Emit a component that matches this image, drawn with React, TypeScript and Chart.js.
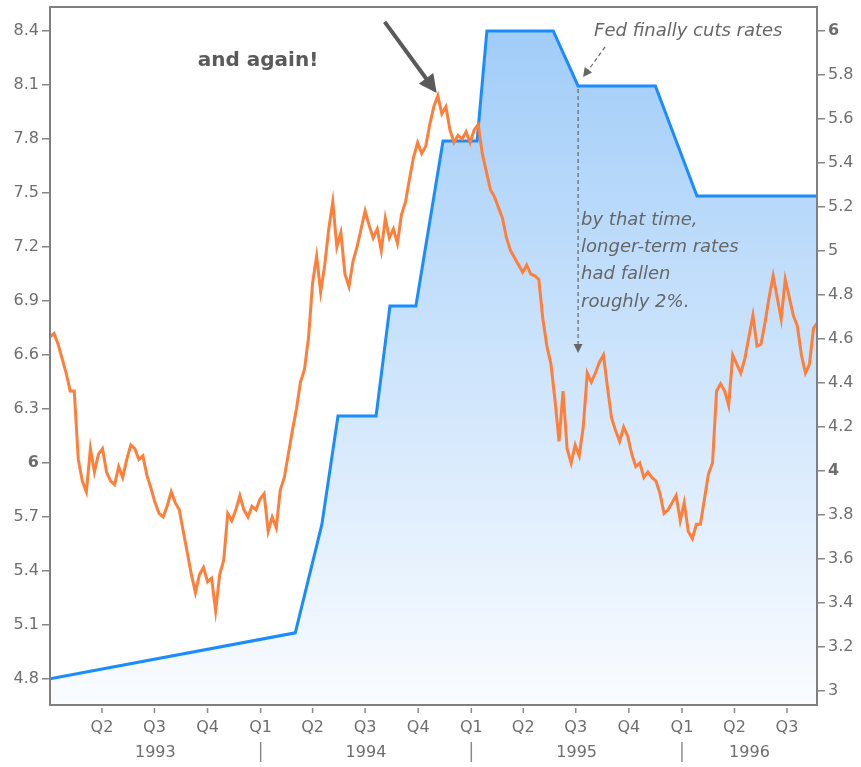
import React, { useEffect, useRef } from "react";
import { Chart, registerables } from "chart.js";

Chart.register(...registerables);

const FONT = "'DejaVu Sans', Verdana, sans-serif";
const TEXT = "#6e6e6e";

const startDate = "1993-01-01";
const endDate = "1996-08-22";

// 10-year yields, weekly samples starting 1993-01-01 (left axis)
const yieldStepDays = 7;
const yieldValues = [
  6.7, 6.72, 6.66, 6.58, 6.5, 6.4, 6.4, 6.02, 5.9, 5.84,
  6.08, 5.95, 6.05, 6.08, 5.95, 5.9, 5.88, 5.98, 5.92, 6.02,
  6.1, 6.08, 6.02, 6.04, 5.93, 5.86, 5.78, 5.72, 5.7, 5.76,
  5.84, 5.78, 5.74, 5.62, 5.5, 5.38, 5.28, 5.38, 5.42, 5.34,
  5.36, 5.18, 5.38, 5.46, 5.72, 5.68, 5.74, 5.82, 5.74, 5.7,
  5.76, 5.74, 5.8, 5.83, 5.62, 5.7, 5.64, 5.85, 5.92, 6.05,
  6.18, 6.3, 6.45, 6.52, 6.7, 7.0, 7.15, 6.95, 7.1, 7.3,
  7.45, 7.2, 7.28, 7.05, 6.98, 7.12, 7.2, 7.3, 7.4, 7.32,
  7.25, 7.3, 7.18, 7.36, 7.25, 7.3, 7.22, 7.38, 7.45, 7.58,
  7.7, 7.78, 7.72, 7.76, 7.88, 7.98, 8.04, 7.94, 7.98, 7.85,
  7.78, 7.82, 7.8, 7.84, 7.78, 7.85, 7.88, 7.72, 7.62, 7.52,
  7.48, 7.42, 7.36, 7.25, 7.18, 7.14, 7.1, 7.06, 7.1, 7.05,
  7.04, 7.02, 6.8, 6.65, 6.55, 6.35, 6.12, 6.4, 6.08, 6.0,
  6.1, 6.04, 6.2, 6.5, 6.45, 6.5, 6.56, 6.6, 6.42, 6.25,
  6.18, 6.12, 6.2, 6.15, 6.05, 5.98, 6.0, 5.92, 5.95, 5.92,
  5.9, 5.83, 5.72, 5.74, 5.78, 5.82, 5.68, 5.78, 5.62, 5.58,
  5.66, 5.66, 5.8, 5.94, 6.0, 6.4, 6.44, 6.4, 6.32, 6.6,
  6.55, 6.5, 6.58, 6.7, 6.82, 6.65, 6.66, 6.78, 6.92, 7.04,
  6.92, 6.8, 7.02, 6.92, 6.82, 6.76, 6.6, 6.5, 6.55, 6.75,
  6.78,
];

// Fed funds rate (right axis)
const fedDates = [
  "1993-01-01", "1994-03-02", "1994-04-17", "1994-05-15", "1994-07-20",
  "1994-08-13", "1994-09-27", "1994-11-13", "1995-01-11", "1995-01-28",
  "1995-05-23", "1995-07-05", "1995-11-16", "1996-01-27", "1996-08-22",
];
const fedValues = [
  3.055, 3.264, 3.756, 4.25, 4.25,
  4.75, 4.75, 5.5, 5.5, 6.0,
  6.0, 5.75, 5.75, 5.25, 5.25,
];

const leftTicks = [4.8, 5.1, 5.4, 5.7, 6, 6.3, 6.6, 6.9, 7.2, 7.5, 7.8, 8.1, 8.4];
const rightTicks = [3, 3.2, 3.4, 3.6, 3.8, 4, 4.2, 4.4, 4.6, 4.8, 5, 5.2, 5.4, 5.6, 5.8, 6];
const leftBold = [6];
const rightBold = [4, 6];

const quarterDates = [
  "1993-04-01", "1993-07-01", "1993-10-01", "1994-01-01", "1994-04-01", "1994-07-01", "1994-10-01",
  "1995-01-01", "1995-04-01", "1995-07-01", "1995-10-01", "1996-01-01", "1996-04-01", "1996-07-01",
];
const quarterLabels = ["Q2", "Q3", "Q4", "Q1", "Q2", "Q3", "Q4", "Q1", "Q2", "Q3", "Q4", "Q1", "Q2", "Q3"];
const yearLabels = ["1993", "1994", "1995", "1996"];
const yearStarts = ["1993-01-01", "1994-01-01", "1995-01-01", "1996-01-01", "1997-01-01"];

// annotation anchors
const peakDate = "1994-11-02";
const peakValue = 8.056;
const cutDate = "1995-07-05";
const cutValue = 5.75;
const dropEndValue = 4.536;
const againTextDate = "1993-09-14";
const againTextValue = 8.235;
const noteLines = ["by that time,", "longer-term rates", "had fallen", "roughly 2%."];

const dayOf = (s: string) => (Date.parse(s) - Date.parse(startDate)) / 86400000;
const xMax = dayOf(endDate);

function arrowHead(ctx: CanvasRenderingContext2D, x1: number, y1: number, x2: number, y2: number, len: number, half: number) {
  const a = Math.atan2(y2 - y1, x2 - x1);
  ctx.beginPath();
  ctx.moveTo(x2, y2);
  ctx.lineTo(x2 - len * Math.cos(a) + half * Math.sin(a), y2 - len * Math.sin(a) - half * Math.cos(a));
  ctx.lineTo(x2 - len * Math.cos(a) - half * Math.sin(a), y2 - len * Math.sin(a) + half * Math.cos(a));
  ctx.closePath();
  ctx.fill();
}

const decorPlugin = {
  id: "decor",
  afterDraw(chart: any) {
    const ctx: CanvasRenderingContext2D = chart.ctx;
    const area = chart.chartArea;
    const xs = chart.scales.x;
    const yl = chart.scales.yLeft;
    const yr = chart.scales.yRight;
    ctx.save();
    // border
    ctx.strokeStyle = "#7f7f7f";
    ctx.lineWidth = 2;
    ctx.strokeRect(area.left, area.top, area.right - area.left, area.bottom - area.top);

    // quarter ticks and labels
    ctx.fillStyle = TEXT;
    ctx.font = `16px ${FONT}`;
    ctx.textAlign = "center";
    ctx.textBaseline = "middle";
    ctx.strokeStyle = "#8a8a8a";
    ctx.lineWidth = 1.5;
    quarterDates.forEach((d, i) => {
      const px = xs.getPixelForValue(dayOf(d));
      ctx.beginPath();
      ctx.moveTo(px, area.bottom + 3);
      ctx.lineTo(px, area.bottom + 8);
      ctx.stroke();
      ctx.fillText(quarterLabels[i], px, area.bottom + 23);
    });
    // year separators and labels
    yearLabels.forEach((y, i) => {
      const s = Math.max(0, dayOf(yearStarts[i]));
      const e = Math.min(xMax, dayOf(yearStarts[i + 1]));
      const cx = (xs.getPixelForValue(s) + xs.getPixelForValue(e)) / 2;
      ctx.fillText(y, cx, area.bottom + 48);
      if (i > 0) {
        const px = xs.getPixelForValue(dayOf(yearStarts[i]));
        ctx.beginPath();
        ctx.moveTo(px, area.bottom + 37);
        ctx.lineTo(px, area.bottom + 57);
        ctx.stroke();
      }
    });

    // "and again!" text + arrow
    ctx.fillStyle = "#5a5a5a";
    ctx.font = `bold 20px ${FONT}`;
    ctx.textAlign = "left";
    ctx.fillText("and again!", xs.getPixelForValue(dayOf(againTextDate)), yl.getPixelForValue(againTextValue));
    const tx = xs.getPixelForValue(dayOf(peakDate));
    const ty = yl.getPixelForValue(peakValue);
    const sx = tx - 52, sy = ty - 71;
    ctx.strokeStyle = "#5a5a5a";
    ctx.lineWidth = 4;
    const ang = Math.atan2(ty - sy, tx - sx);
    ctx.beginPath();
    ctx.moveTo(sx, sy);
    ctx.lineTo(tx - 12 * Math.cos(ang), ty - 12 * Math.sin(ang));
    ctx.stroke();
    arrowHead(ctx, sx, sy, tx, ty, 18, 9);

    // Fed cut annotation
    const cx = xs.getPixelForValue(dayOf(cutDate));
    const cy = yr.getPixelForValue(cutValue);
    ctx.fillStyle = "#666666";
    ctx.strokeStyle = "#666666";
    ctx.font = `italic 18px ${FONT}`;
    ctx.textAlign = "left";
    ctx.fillText("Fed finally cuts rates", cx + 16, cy - 55);
    ctx.lineWidth = 1.2;
    ctx.setLineDash([4, 3]);
    ctx.beginPath();
    ctx.moveTo(cx + 27, cy - 39);
    ctx.lineTo(cx + 9, cy - 14);
    ctx.stroke();
    ctx.beginPath();
    ctx.moveTo(cx, cy + 3);
    const ey = yr.getPixelForValue(dropEndValue);
    ctx.lineTo(cx, ey - 6);
    ctx.stroke();
    ctx.setLineDash([]);
    arrowHead(ctx, cx + 27, cy - 39, cx + 5, cy - 9, 9, 4.5);
    arrowHead(ctx, cx, cy, cx, ey, 9, 4.5);
    noteLines.forEach((t, i) => {
      ctx.fillText(t, cx + 3, cy + 134 + i * 27.3);
    });
    ctx.restore();
  },
};

export default function App() {
  const ref = useRef<HTMLCanvasElement | null>(null);
  useEffect(() => {
    if (!ref.current) return;
    Chart.defaults.font.family = FONT;
    const tickFont = (bold: number[]) => (c: any) => ({
      family: FONT,
      size: 16,
      weight: c.tick && bold.includes(c.tick.value) ? "bold" : "normal",
    });
    const fitY = (w: number) => (s: any) => {
      s.width = w;
      s.paddingTop = 0;
      s.paddingBottom = 0;
    };
    const chart = new Chart(ref.current, {
      type: "line",
      data: {
        datasets: [
          {
            label: "10-year yield",
            data: yieldValues.map((v, i) => ({ x: i * yieldStepDays, y: v })),
            yAxisID: "yLeft",
            borderColor: "#ff7f3a",
            borderWidth: 3,
            pointRadius: 0,
            tension: 0,
            fill: false,
            order: 1,
          },
          {
            label: "Fed funds",
            data: fedDates.map((d, i) => ({ x: dayOf(d), y: fedValues[i] })),
            yAxisID: "yRight",
            borderColor: "#1a8cff",
            borderWidth: 3,
            pointRadius: 0,
            tension: 0,
            fill: "start",
            order: 2,
            backgroundColor: (c: any) => {
              const area = c.chart.chartArea;
              if (!area) return "rgba(0,0,0,0)";
              const g = c.chart.ctx.createLinearGradient(0, area.top, 0, area.bottom);
              g.addColorStop(0, "#9ecbf8");
              g.addColorStop(1, "#fafcff");
              return g;
            },
          },
        ],
      },
      options: {
        animation: false,
        responsive: false,
        layout: { padding: { top: 7, left: 0, right: 0, bottom: 0 } },
        plugins: { legend: { display: false }, tooltip: { enabled: false } },
        scales: {
          x: {
            type: "linear",
            min: 0,
            max: xMax,
            ticks: { display: false },
            grid: { display: false },
            border: { display: false },
            afterFit: (s: any) => {
              s.height = 62;
              s.paddingLeft = 0;
              s.paddingRight = 0;
            },
          },
          yLeft: {
            type: "linear",
            position: "left",
            min: 4.656,
            max: 8.533,
            afterBuildTicks: (s: any) => {
              s.ticks = leftTicks.map((v) => ({ value: v }));
            },
            afterFit: fitY(50),
            ticks: {
              autoSkip: false,
              color: TEXT,
              padding: 3,
              font: tickFont(leftBold) as any,
              callback: (v: any) => String(v),
            },
            grid: { drawOnChartArea: false, drawTicks: true, tickLength: 8, color: "#888888", lineWidth: 1.5 },
            border: { display: false },
          },
          yRight: {
            type: "linear",
            position: "right",
            min: 2.936,
            max: 6.109,
            afterBuildTicks: (s: any) => {
              s.ticks = rightTicks.map((v) => ({ value: v }));
            },
            afterFit: fitY(44),
            ticks: {
              autoSkip: false,
              color: TEXT,
              padding: 3,
              font: tickFont(rightBold) as any,
              callback: (v: any) => String(v),
            },
            grid: { drawOnChartArea: false, drawTicks: true, tickLength: 8, color: "#888888", lineWidth: 1.5 },
            border: { display: false },
          },
        },
      },
      plugins: [decorPlugin],
    });
    return () => chart.destroy();
  }, []);
  return (
    <div style={{ position: "fixed", left: 0, top: 0, width: 861, height: 767, background: "#ffffff" }}>
      <canvas ref={ref} width={861} height={767} style={{ display: "block", width: 861, height: 767 }} />
    </div>
  );
}
